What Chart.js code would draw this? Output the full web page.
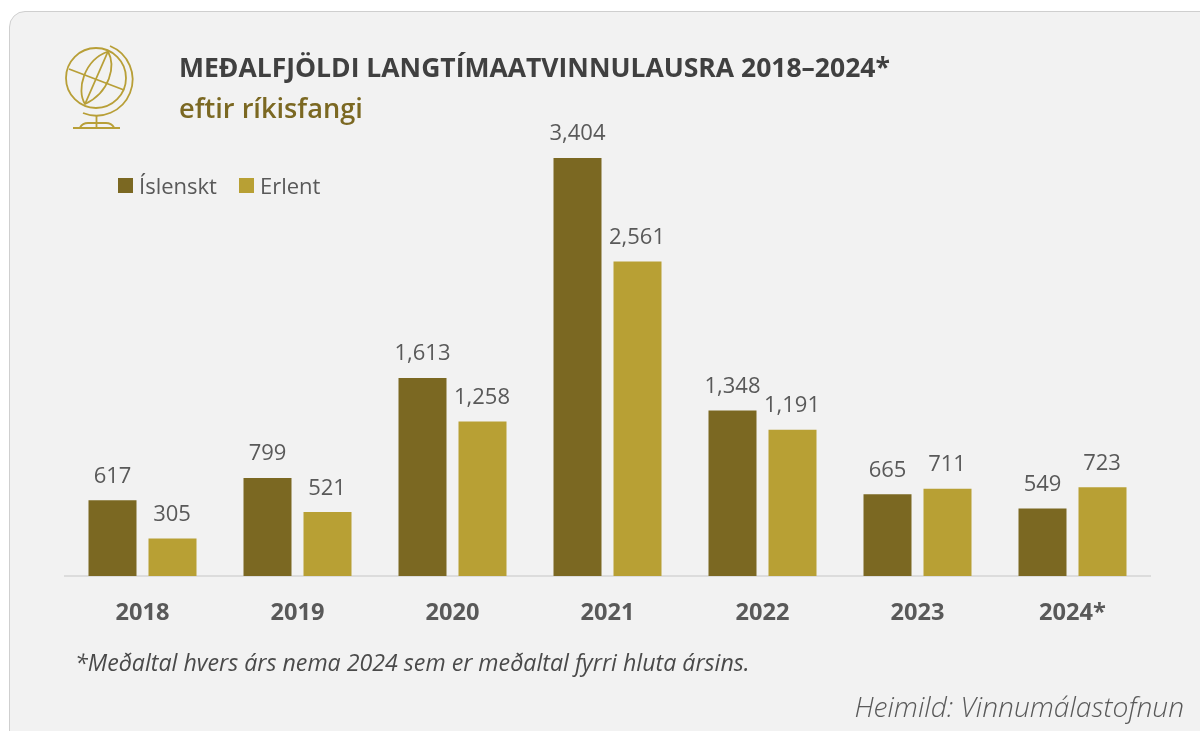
<!DOCTYPE html>
<html lang="is">
<head>
<meta charset="utf-8">
<title>Meðalfjöldi langtímaatvinnulausra 2018–2024</title>
<script src="https://cdn.jsdelivr.net/npm/chart.js@4/dist/chart.umd.min.js"></script>
<style>
html,body{margin:0;padding:0;width:1200px;height:731px;overflow:hidden;background:#fff;font-family:"Open Sans",sans-serif}
#card{position:absolute;left:9px;top:11px;width:1230px;height:740px;box-sizing:border-box;background:#f2f2f2;border:1.5px solid #cfcfcf;border-radius:16px}
#chart{position:absolute;left:0;top:0;width:1200px;height:731px}
.t{position:absolute;white-space:nowrap;line-height:1}
#title{left:179px;top:54px;font-size:26.5px;font-weight:700;color:#404040}
#subtitle{left:179px;top:94px;font-size:27.2px;font-weight:600;color:#7b6822}
#note{left:75px;top:651px;font-size:23.2px;font-style:italic;color:#4a4a4a}
#source{right:16px;top:692px;font-size:28.2px;font-style:italic;font-weight:300;color:#595959}
#legend{position:absolute;left:118px;top:171px;height:30px;font-size:22px;color:#595959}
#legend span.b{position:absolute;top:7px;width:15px;height:15px}
#legend span.l{position:absolute;top:0;line-height:28px;white-space:nowrap}
#globe{position:absolute;left:60px;top:40px}
</style>
</head>
<body>
<div id="card"></div>
<canvas id="chart" width="1200" height="731"></canvas>
<svg id="globe" width="80" height="92" viewBox="60 40 80 92" fill="none" stroke="#b89f37" stroke-width="1.8">
  <circle cx="96" cy="78" r="30"/>
  <path d="M108 51.500C116 66 110 92 85 104C76 90 84 60 108 51.500Z"/>
  <path d="M108 51.500L85 104"/>
  <path d="M69 69L124 90"/>
  <path d="M110 46A36 36 0 0 1 83 113"/>
  <path d="M96.500 115V127M80 127.500C82 124 84 123 88 123H106C110 123 112 124 114 127.500M73 128H120"/>
</svg>
<div class="t" id="title"></div>
<div class="t" id="subtitle"></div>
<div id="legend"></div>
<div class="t" id="note"></div>
<div class="t" id="source"></div>
<script>
const categories = ['2018','2019','2020','2021','2022','2023','2024*'];
const islenskt = [617,799,1613,3404,1348,665,549];
const erlent = [305,521,1258,2561,1191,711,723];
const seriesNames = ['Íslenskt','Erlent'];
const seriesColors = ['#7b6822','#b8a034'];
const titleText = 'MEÐALFJÖLDI LANGTÍMAATVINNULAUSRA 2018–2024*';
const subtitleText = 'eftir ríkisfangi';
const noteText = '*Meðaltal hvers árs nema 2024 sem er meðaltal fyrri hluta ársins.';
const sourceText = 'Heimild: Vinnumálastofnun';

document.getElementById('title').textContent = titleText;
document.getElementById('subtitle').textContent = subtitleText;
document.getElementById('note').textContent = noteText;
document.getElementById('source').textContent = sourceText;

const FONT = '"Open Sans", sans-serif';
const barLabels = {
  id:'barLabels',
  afterDatasetsDraw(chart){
    const c = chart.ctx;
    c.save();
    c.font = '22px ' + FONT;
    c.fillStyle = '#595959';
    c.textAlign = 'center';
    c.textBaseline = 'alphabetic';
    chart.data.datasets.forEach((ds,i)=>{
      chart.getDatasetMeta(i).data.forEach((el,j)=>{
        c.fillText(ds.data[j].toLocaleString('en-US'), el.x - (i?0.5:0), el.y - 17.5);
      });
    });
    c.restore();
  }
};

const chart = new Chart(document.getElementById('chart'),{
  type:'bar',
  data:{labels:categories,datasets:[
    {label:seriesNames[0],data:islenskt,backgroundColor:seriesColors[0],barPercentage:0.8,categoryPercentage:120/155},
    {label:seriesNames[1],data:erlent,backgroundColor:seriesColors[1],barPercentage:0.8,categoryPercentage:120/155}
  ]},
  options:{
    responsive:false,animation:false,
    layout:{padding:{left:65,right:50,top:100,bottom:0}},
    plugins:{legend:{display:false},title:{display:false},tooltip:{enabled:false}},
    scales:{
      y:{display:false,min:0,max:476/0.1228},
      x:{
        afterFit(s){s.height=155;},
        grid:{display:false,drawTicks:false},
        border:{color:'#dcdcdc',width:2},
        ticks:{color:'#595959',padding:23,font:{family:FONT,size:23.6,weight:'700'},maxRotation:0}
      }
    }
  },
  plugins:[barLabels]
});

const legend = document.getElementById('legend');
[[0,21],[121,142]].forEach(([bx,tx],i)=>{
  const b=document.createElement('span');b.className='b';b.style.left=bx+'px';b.style.background=chart.data.datasets[i].backgroundColor;
  const l=document.createElement('span');l.className='l';l.style.left=tx+'px';l.textContent=chart.data.datasets[i].label;
  legend.append(b,l);
});
</script>
</body>
</html>
